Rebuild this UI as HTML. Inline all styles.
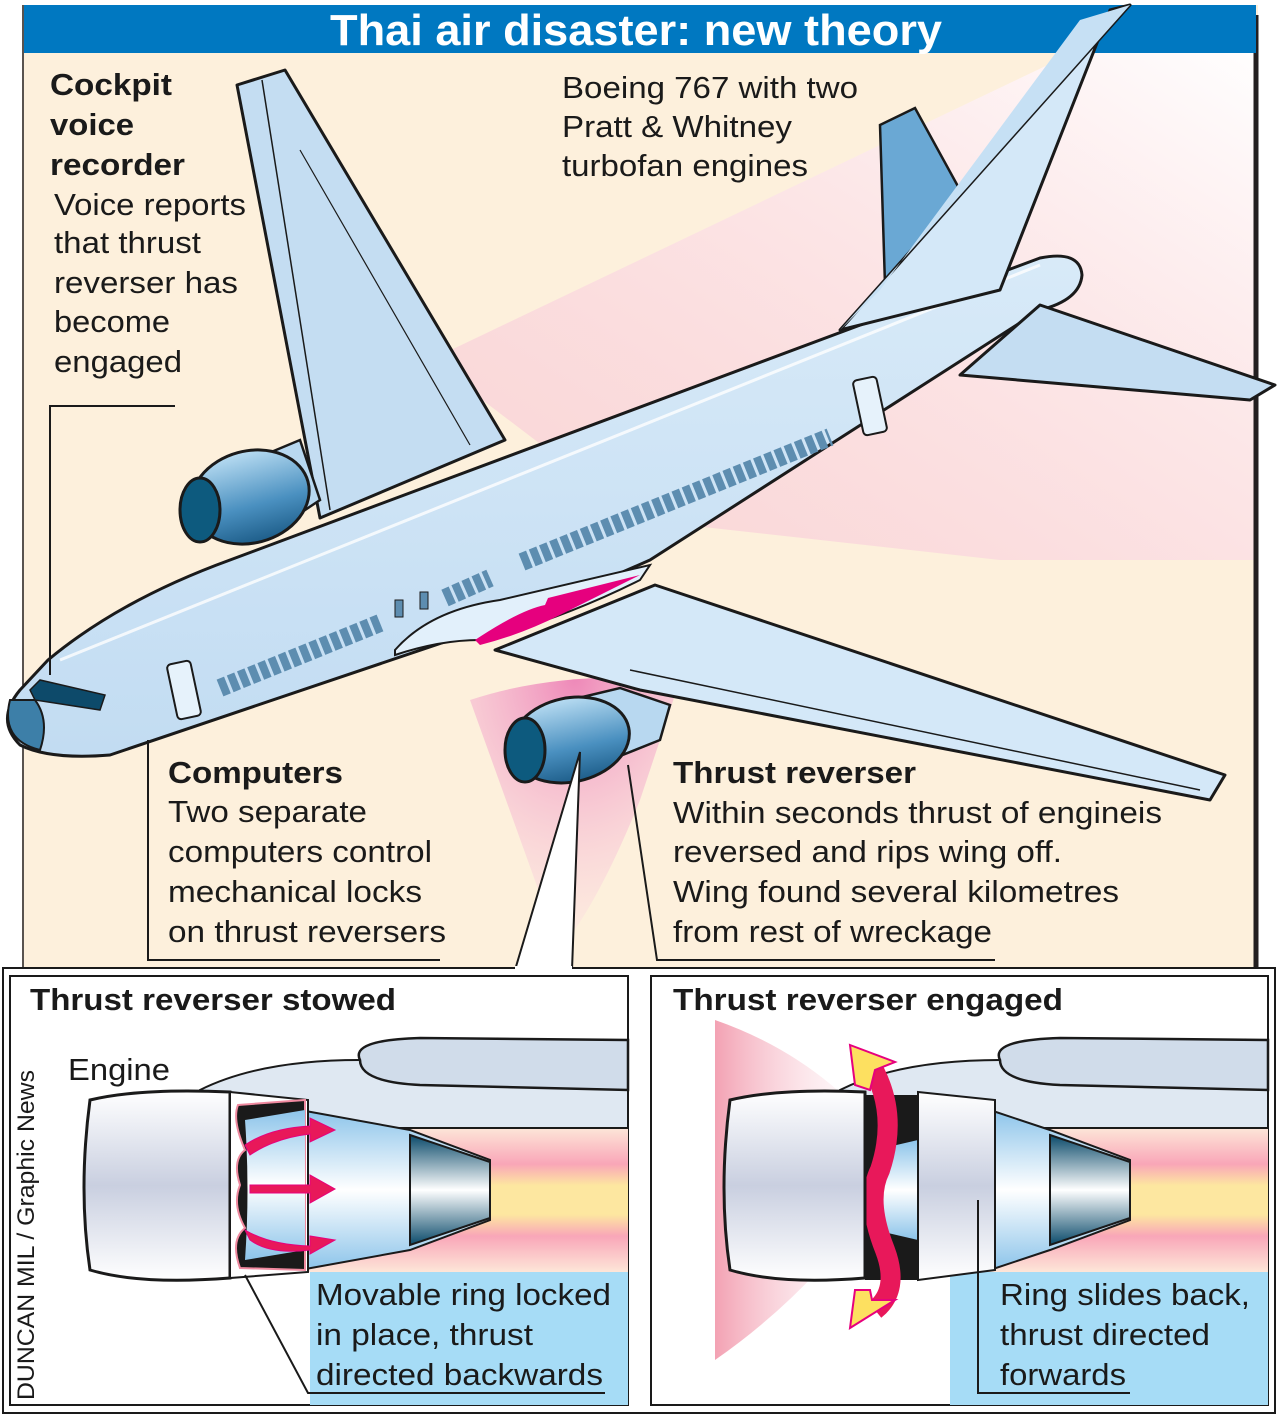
<!DOCTYPE html>
<html><head><meta charset="utf-8"><style>
html,body{margin:0;padding:0;background:#fff;width:1279px;height:1415px;overflow:hidden}
svg{display:block}
text{font-family:"Liberation Sans",sans-serif;fill:#1a1a1a}
.b{font-weight:bold}
</style></head><body>
<svg width="1279" height="1415" viewBox="0 0 1279 1415" xmlns="http://www.w3.org/2000/svg">
<defs>
<linearGradient id="haze" x1="0" y1="1" x2="1" y2="0">
<stop offset="0" stop-color="#f7c0d0" stop-opacity="0.55"/><stop offset="0.6" stop-color="#fce4ea" stop-opacity="0.8"/><stop offset="1" stop-color="#fff" stop-opacity="1"/></linearGradient>
<radialGradient id="pinkb" cx="0.5" cy="0" r="1"><stop offset="0" stop-color="#ee88b8"/><stop offset="1" stop-color="#fbdde6" stop-opacity="0.2"/></radialGradient>
<linearGradient id="eng" x1="0" y1="0" x2="0" y2="1"><stop offset="0" stop-color="#b8dcf2"/><stop offset="0.6" stop-color="#4a90c0"/><stop offset="1" stop-color="#1e5e8a"/></linearGradient>
<linearGradient id="fus" x1="0" y1="0" x2="0" y2="1"><stop offset="0" stop-color="#d8eaf8"/><stop offset="1" stop-color="#c2dcf2"/></linearGradient>
<linearGradient id="band" x1="0" y1="0" x2="0" y2="1">
<stop offset="0" stop-color="#fde6d8"/><stop offset="0.25" stop-color="#f9a6b8"/><stop offset="0.4" stop-color="#fde7a0"/><stop offset="0.6" stop-color="#fde7a0"/><stop offset="0.75" stop-color="#f9a6b8"/><stop offset="1" stop-color="#fde6d8"/></linearGradient>
<linearGradient id="cone" x1="0" y1="0" x2="0" y2="1"><stop offset="0" stop-color="#0a4a6a"/><stop offset="0.5" stop-color="#ffffff"/><stop offset="1" stop-color="#0a4a6a"/></linearGradient>
<linearGradient id="cowl" x1="0" y1="0" x2="0" y2="1"><stop offset="0" stop-color="#fff"/><stop offset="0.5" stop-color="#c9cfe0"/><stop offset="1" stop-color="#fff"/></linearGradient>
<linearGradient id="core" x1="0" y1="0" x2="0" y2="1"><stop offset="0" stop-color="#8cc4ea"/><stop offset="0.5" stop-color="#fff"/><stop offset="1" stop-color="#8cc4ea"/></linearGradient>
<linearGradient id="redglow" x1="1" y1="0" x2="0" y2="0"><stop offset="0" stop-color="#fff" stop-opacity="0"/><stop offset="1" stop-color="#f08aa0"/></linearGradient>
</defs>

<rect x="22" y="5" width="1236" height="965" fill="#fdf0dc"/>
<polygon points="430,360 1100,40 1256,40 1256,560 1000,560 640,520" fill="url(#haze)"/>
<path d="M470,700 Q560,670 680,680 L640,800 Q600,900 560,950 Z" fill="url(#pinkb)"/>
<line x1="1256" y1="15" x2="1256" y2="968" stroke="#231f20" stroke-width="5"/>
<line x1="23" y1="5" x2="23" y2="968" stroke="#231f20" stroke-width="1.5"/>
<rect x="24" y="5" width="1232" height="48" fill="#0078c1"/>
<text x="330" y="45" textLength="612" lengthAdjust="spacingAndGlyphs" class="b" font-size="44" style="fill:#fff">Thai air disaster: new theory</text>

<polygon points="237,85 285,70 505,440 320,518" fill="#c4ddf2" stroke="#1a1a1a" stroke-width="3" stroke-linejoin="round"/>
<line x1="262" y1="80" x2="330" y2="510" stroke="#1a1a1a" stroke-width="1.5"/>
<line x1="300" y1="150" x2="470" y2="445" stroke="#1a1a1a" stroke-width="1.2"/>
<path d="M240,465 L300,440 L320,500 L260,540 Z" fill="#b8d8f0" stroke="#1a1a1a" stroke-width="2.5"/>
<ellipse cx="250" cy="497" rx="60" ry="46" transform="rotate(-15 250 497)" fill="url(#eng)" stroke="#1a1a1a" stroke-width="3"/>
<ellipse cx="200" cy="510" rx="20" ry="32" fill="#0d5a7e" stroke="#1a1a1a" stroke-width="3"/>

<polygon points="880,125 915,108 960,190 885,285" fill="#6aa8d4" stroke="#1a1a1a" stroke-width="2.5"/>
<path d="M48,660 Q120,600 230,560 L1040,258 Q1080,250 1082,275 Q1080,300 1040,310 L650,560 Q560,600 480,630 L110,755 Q50,760 20,745 Q-5,720 20,690 Z" fill="url(#fus)" stroke="#1a1a1a" stroke-width="3" stroke-linejoin="round"/>
<path d="M60,660 L1040,265" stroke="#fff" stroke-width="3" opacity="0.8"/>
<path d="M10,700 Q0,740 40,750 Q50,720 35,700 Z" fill="#3d7fa8" stroke="#1a1a1a" stroke-width="2"/>
<polygon points="30,690 40,680 105,695 100,710 35,700" fill="#0d4a6a" stroke="#1a1a1a" stroke-width="1.5"/>
<polygon points="840,330 1130,5 1110,10 1000,290" fill="#d4e8f8" stroke="#1a1a1a" stroke-width="3" stroke-linejoin="round"/>
<polygon points="840,330 1130,5 1080,20 880,290" fill="#c6e0f4" stroke="none"/>
<polygon points="960,375 1040,305 1275,385 1250,400" fill="#c4ddf2" stroke="#1a1a1a" stroke-width="3" stroke-linejoin="round"/>
<rect x="172" y="662" width="24" height="56" rx="4" fill="#e6f2fb" stroke="#1a1a1a" stroke-width="2" transform="rotate(-12 184 690)"/>
<rect x="858" y="378" width="24" height="56" rx="4" fill="#e6f2fb" stroke="#1a1a1a" stroke-width="2" transform="rotate(-12 870 406)"/>
<g fill="#5d8db0" stroke="#1a1a1a" stroke-width="1">
<path d="M220,688 L380,623" stroke="#5d8db0" stroke-width="18" stroke-dasharray="8,3"/>
<path d="M445,598 L490,578" stroke="#5d8db0" stroke-width="18" stroke-dasharray="8,3"/>
<path d="M522,562 L830,437" stroke="#5d8db0" stroke-width="18" stroke-dasharray="8,3"/>
<rect x="395" y="600" width="8" height="17"/><rect x="420" y="592" width="8" height="17"/>
</g>
<path d="M395,650 Q430,610 500,600 L650,565 L640,580 Q560,620 480,640 Q440,640 395,655 Z" fill="#e2f0fb" stroke="#1a1a1a" stroke-width="2"/>
<path d="M475,640 Q520,610 545,605 L548,598 L640,575 L560,615 Q520,635 480,645 Z" fill="#e6007e"/>
<polygon points="495,650 655,585 1225,775 1210,800 640,690" fill="#d4e8f8" stroke="#1a1a1a" stroke-width="3" stroke-linejoin="round"/>
<line x1="630" y1="670" x2="1200" y2="790" stroke="#1a1a1a" stroke-width="1.5"/>
<path d="M570,700 L620,688 L670,705 L660,740 L610,760 Z" fill="#b8d8f0" stroke="#1a1a1a" stroke-width="2.5"/>
<ellipse cx="570" cy="740" rx="60" ry="42" transform="rotate(-12 570 740)" fill="url(#eng)" stroke="#1a1a1a" stroke-width="3"/>
<ellipse cx="525" cy="750" rx="20" ry="32" fill="#0d5a7e" stroke="#1a1a1a" stroke-width="3"/>

<g font-size="31" lengthAdjust="spacingAndGlyphs">
<text x="50" y="95" class="b" textLength="122" lengthAdjust="spacingAndGlyphs">Cockpit</text>
<text x="50" y="135" class="b" textLength="84" lengthAdjust="spacingAndGlyphs">voice</text>
<text x="50" y="175" class="b" textLength="135" lengthAdjust="spacingAndGlyphs">recorder</text>
<text x="54" y="215" textLength="192" lengthAdjust="spacingAndGlyphs">Voice reports</text>
<text x="54" y="253" textLength="147" lengthAdjust="spacingAndGlyphs">that thrust</text>
<text x="54" y="293" textLength="184" lengthAdjust="spacingAndGlyphs">reverser has</text>
<text x="54" y="332" textLength="116" lengthAdjust="spacingAndGlyphs">become</text>
<text x="54" y="372" textLength="128" lengthAdjust="spacingAndGlyphs">engaged</text>
<text x="562" y="98" textLength="296" lengthAdjust="spacingAndGlyphs">Boeing 767 with two</text>
<text x="562" y="137" textLength="230" lengthAdjust="spacingAndGlyphs">Pratt &amp; Whitney</text>
<text x="562" y="176" textLength="246" lengthAdjust="spacingAndGlyphs">turbofan engines</text>
<text x="168" y="783" class="b" textLength="175" lengthAdjust="spacingAndGlyphs">Computers</text>
<text x="168" y="822" textLength="199" lengthAdjust="spacingAndGlyphs">Two separate</text>
<text x="168" y="862" textLength="264" lengthAdjust="spacingAndGlyphs">computers control</text>
<text x="168" y="902" textLength="254" lengthAdjust="spacingAndGlyphs">mechanical locks</text>
<text x="168" y="942" textLength="278" lengthAdjust="spacingAndGlyphs">on thrust reversers</text>
<text x="673" y="783" class="b" textLength="243" lengthAdjust="spacingAndGlyphs">Thrust reverser</text>
<text x="673" y="823" textLength="489" lengthAdjust="spacingAndGlyphs">Within seconds thrust of engineis</text>
<text x="673" y="862" textLength="389" lengthAdjust="spacingAndGlyphs">reversed and rips wing off.</text>
<text x="673" y="902" textLength="446" lengthAdjust="spacingAndGlyphs">Wing found several kilometres</text>
<text x="673" y="942" textLength="319" lengthAdjust="spacingAndGlyphs">from rest of wreckage</text>
</g>
<g stroke="#1a1a1a" stroke-width="2" fill="none">
<polyline points="175,406 50,406 50,675"/>
<polyline points="148,740 148,960 440,960"/>
<polyline points="628,765 657,960 995,960"/>
</g>
<polygon points="580,752 515,970 572,970" fill="#fff" stroke="#1a1a1a" stroke-width="2"/>

<rect x="3" y="968" width="1272" height="445" fill="#fff" stroke="#1a1a1a" stroke-width="2"/>
<rect x="515" y="966" width="57" height="6" fill="#fff"/>
<g>
<rect x="10" y="976" width="618" height="429" fill="#fff" stroke="#1a1a1a" stroke-width="2"/>
<polygon points="310,1405 628,1100 628,1405" fill="#eaf6fc"/>
<rect x="300" y="1128" width="328" height="144" fill="url(#band)"/>
<rect x="310" y="1272" width="318" height="133" fill="#a6dcf6"/>
<path d="M200,1090 Q260,1060 360,1060 L628,1060 L628,1128 L200,1128 Z" fill="#dfe8f2" stroke="#1a1a1a" stroke-width="2"/>
<path d="M360,1060 Q350,1040 420,1038 L628,1040 L628,1090 L420,1085 Q360,1082 360,1060 Z" fill="#d0dcea" stroke="#1a1a1a" stroke-width="2.5"/>
<path d="M300,1110 L410,1130 L490,1160 L490,1220 L410,1250 L300,1270 Z" fill="url(#core)" stroke="#1a1a1a" stroke-width="2"/>
<polygon points="410,1135 490,1162 490,1218 410,1245" fill="url(#cone)" stroke="#1a1a1a" stroke-width="2"/>
<path d="M90,1100 Q140,1088 230,1092 L230,1278 Q140,1285 90,1270 Q78,1190 90,1100 Z" fill="url(#cowl)" stroke="#1a1a1a" stroke-width="3"/>
<path d="M230,1092 L308,1100 L308,1272 L230,1278 Z" fill="#fff" stroke="#1a1a1a" stroke-width="2"/>
<path d="M238,1105 L305,1100 L305,1270 L240,1268 Q230,1240 245,1228 Q232,1205 240,1185 Q232,1160 245,1150 Q232,1120 238,1105 Z" fill="#1a1a1a" stroke="#f08aa0" stroke-width="2"/>
<path d="M245,1120 Q250,1190 245,1260 L305,1250 L305,1110 Z" fill="url(#core)"/>
<g fill="#e8185a" stroke="#e6007e" stroke-width="1">
<path d="M245,1145 Q270,1128 310,1126 L310,1118 L335,1130 L310,1142 L310,1134 Q275,1138 250,1155 Z"/>
<path d="M250,1185 L310,1185 L310,1175 L335,1189 L310,1203 L310,1193 L250,1193 Z"/>
<path d="M245,1230 Q270,1245 310,1246 L310,1236 L335,1240 L310,1254 L310,1250 Q270,1255 250,1240 Z"/>
</g>
<text x="30" y="1010" class="b" font-size="31" textLength="366" lengthAdjust="spacingAndGlyphs">Thrust reverser stowed</text>
<text x="68" y="1080" font-size="31" textLength="102" lengthAdjust="spacingAndGlyphs">Engine</text>
<g font-size="31"><text x="316" y="1305" textLength="295" lengthAdjust="spacingAndGlyphs">Movable ring locked</text><text x="316" y="1345" textLength="217" lengthAdjust="spacingAndGlyphs">in place, thrust</text><text x="316" y="1385" textLength="287" lengthAdjust="spacingAndGlyphs">directed backwards</text></g>
<polyline points="245,1275 308,1393 605,1393" fill="none" stroke="#1a1a1a" stroke-width="2"/>
<text transform="translate(34,1400) rotate(-90)" font-size="24" textLength="330" lengthAdjust="spacingAndGlyphs">DUNCAN MIL / Graphic News</text>
</g>
<g>
<rect x="651" y="976" width="617" height="429" fill="#fff" stroke="#1a1a1a" stroke-width="2"/>
<polygon points="950,1405 1268,1100 1268,1405" fill="#eaf6fc"/>
<rect x="940" y="1128" width="328" height="144" fill="url(#band)"/>
<rect x="950" y="1272" width="318" height="133" fill="#a6dcf6"/>
<path d="M715,1020 Q830,1060 900,1160 Q830,1280 715,1360 Z" fill="url(#redglow)" opacity="0.8"/>
<path d="M840,1090 Q900,1060 1000,1060 L1268,1060 L1268,1128 L840,1128 Z" fill="#dfe8f2" stroke="#1a1a1a" stroke-width="2"/>
<path d="M1000,1060 Q990,1040 1060,1038 L1268,1040 L1268,1090 L1060,1085 Q1000,1082 1000,1060 Z" fill="#d0dcea" stroke="#1a1a1a" stroke-width="2.5"/>
<path d="M990,1110 L1050,1130 L1130,1160 L1130,1220 L1050,1250 L990,1270 Z" fill="url(#core)" stroke="#1a1a1a" stroke-width="2"/>
<polygon points="1050,1135 1130,1162 1130,1218 1050,1245" fill="url(#cone)" stroke="#1a1a1a" stroke-width="2"/>
<path d="M865,1095 L918,1095 L918,1280 L865,1280 Z" fill="#1a1a1a"/>
<path d="M875,1150 L918,1140 L918,1240 L875,1230 Z" fill="url(#core)"/>
<path d="M868,1060 Q900,1110 880,1170 Q865,1200 885,1250 Q900,1290 875,1310" fill="none" stroke="#e8185a" stroke-width="20"/>
<polygon points="850,1045 895,1062 875,1070 870,1090 855,1085" fill="#fde060" stroke="#e6007e" stroke-width="2"/>
<polygon points="855,1290 870,1290 872,1300 895,1300 850,1328" fill="#fde060" stroke="#e6007e" stroke-width="2"/>
<path d="M730,1100 Q780,1088 865,1092 L865,1278 Q780,1285 730,1270 Q718,1190 730,1100 Z" fill="url(#cowl)" stroke="#1a1a1a" stroke-width="3"/>
<path d="M918,1092 L995,1100 L995,1270 L918,1280 Z" fill="url(#cowl)" stroke="#1a1a1a" stroke-width="2"/>
<text x="673" y="1010" class="b" font-size="31" textLength="390" lengthAdjust="spacingAndGlyphs">Thrust reverser engaged</text>
<g font-size="31"><text x="1000" y="1305" textLength="250" lengthAdjust="spacingAndGlyphs">Ring slides back,</text><text x="1000" y="1345" textLength="210" lengthAdjust="spacingAndGlyphs">thrust directed</text><text x="1000" y="1385" textLength="126" lengthAdjust="spacingAndGlyphs">forwards</text></g>
<polyline points="978,1200 978,1393 1130,1393" fill="none" stroke="#1a1a1a" stroke-width="2"/>
</g>
</svg>
</body></html>
